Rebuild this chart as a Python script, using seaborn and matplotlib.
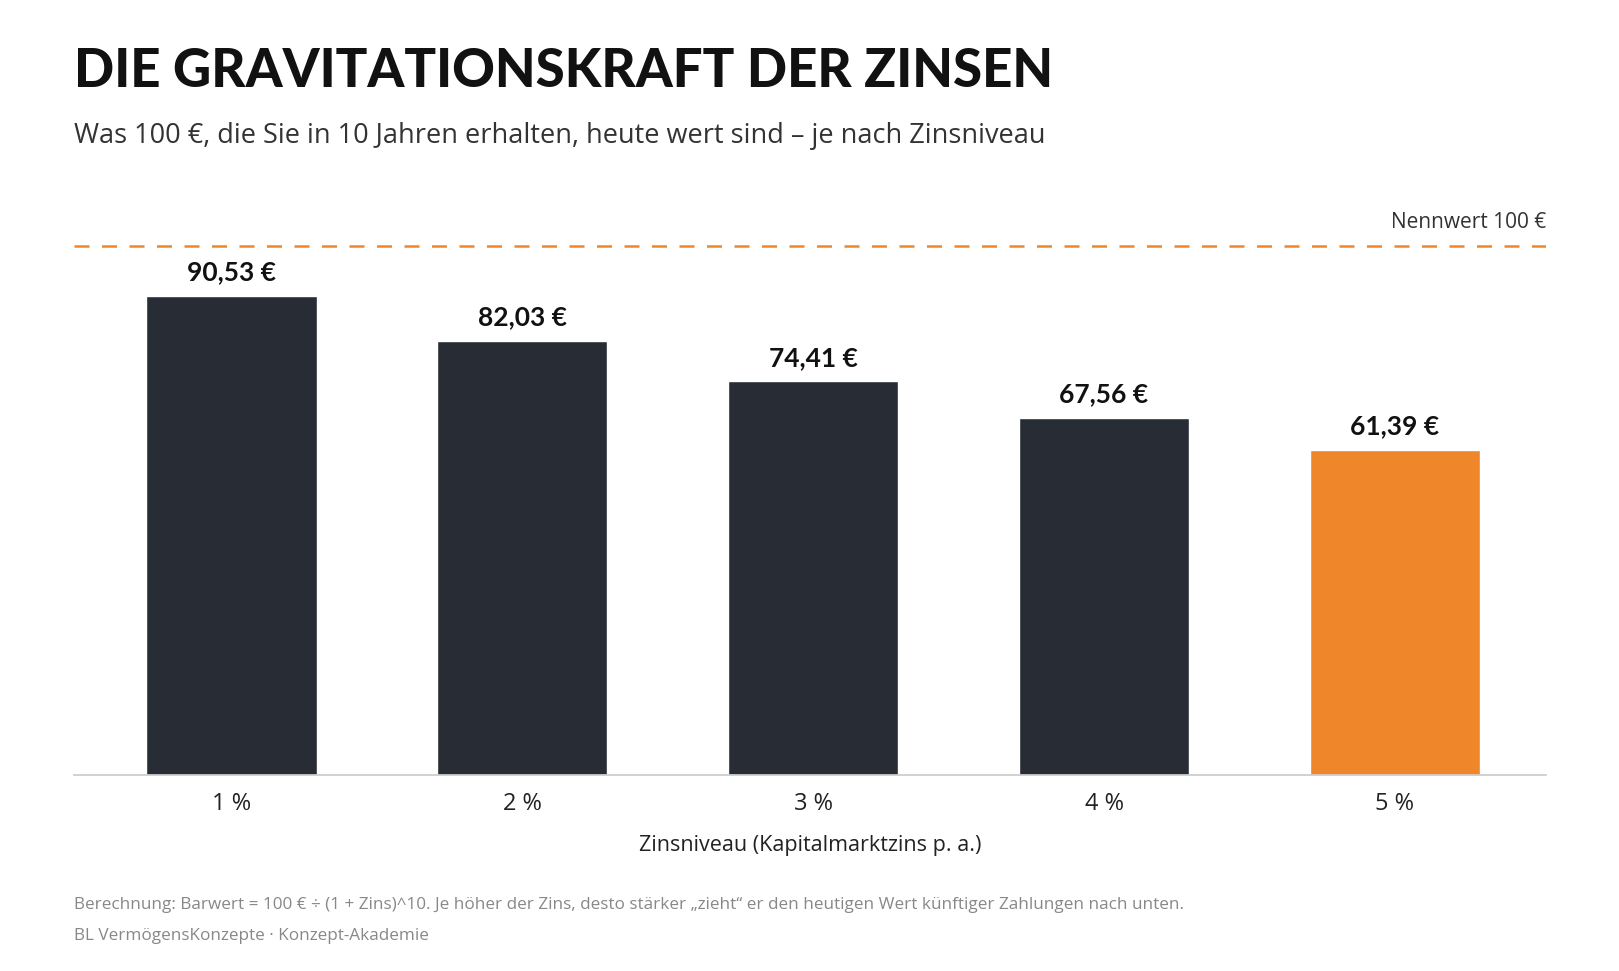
import matplotlib
matplotlib.use("Agg")
import matplotlib.pyplot as plt
import seaborn as sns
import pandas as pd

categories = ["1 %", "2 %", "3 %", "4 %", "5 %"]
values = [90.53, 82.03, 74.41, 67.56, 61.39]
labels = ["90,53 €", "82,03 €", "74,41 €", "67,56 €", "61,39 €"]
nominal = 100

sns.set_theme(style="white")
plt.rcParams['font.family'] = ['Open Sans', 'DejaVu Sans']

dark = "#272c35"
orange = "#f0862a"
colors = [dark, dark, dark, dark, orange]

fig = plt.figure(figsize=(16.19, 9.71), dpi=100)
ax = fig.add_axes([0.046, 0.202, 0.909, 0.585])
df = pd.DataFrame({"cat": categories, "val": values})
sns.barplot(data=df, x="cat", y="val", hue="cat", palette=colors, legend=False,
            width=0.585, ax=ax, saturation=1)
ax.set_xlim(-0.54, 4.52)
ax.set_ylim(0, 107.4)
ax.axhline(nominal, color=orange, lw=1.8, dashes=(6, 5))
ax.text(4.52, nominal + 2.5, "Nennwert 100 €", ha="right", va="bottom", fontsize=15, color="#333")
for i, (v, l) in enumerate(zip(values, labels)):
    ax.text(i, v + 2.2, l, ha="center", va="bottom", fontsize=19, fontweight="bold", color="#111",
            family=['Lato', 'DejaVu Sans'])
for s in ["top", "right", "left"]:
    ax.spines[s].set_visible(False)
ax.spines["bottom"].set_color("#cccccc")
ax.set_yticks([])
ax.set_ylabel("")
ax.tick_params(axis="x", labelsize=17, colors="#222", pad=12, length=0)
ax.set_xlabel("Zinsniveau (Kapitalmarktzins p. a.)", fontsize=15.5, color="#222", labelpad=14)

fig.text(0.046, 0.91, "DIE GRAVITATIONSKRAFT DER ZINSEN", fontsize=38, fontweight="black", color="#111",
         va="baseline", family=['Lato', 'DejaVu Sans'])
fig.text(0.046, 0.853, "Was 100 €, die Sie in 10 Jahren erhalten, heute wert sind – je nach Zinsniveau",
         fontsize=19.5, color="#333", va="baseline")
fig.text(0.046, 0.064, "Berechnung: Barwert = 100 € ÷ (1 + Zins)^10. Je höher der Zins, desto stärker „zieht“ er den heutigen Wert künftiger Zahlungen nach unten.",
         fontsize=12.3, color="#888", va="baseline")
fig.text(0.046, 0.032, "BL VermögensKonzepte · Konzept-Akademie", fontsize=12.3, color="#888", va="baseline")
fig.savefig("out.png", dpi=100, facecolor="white")
